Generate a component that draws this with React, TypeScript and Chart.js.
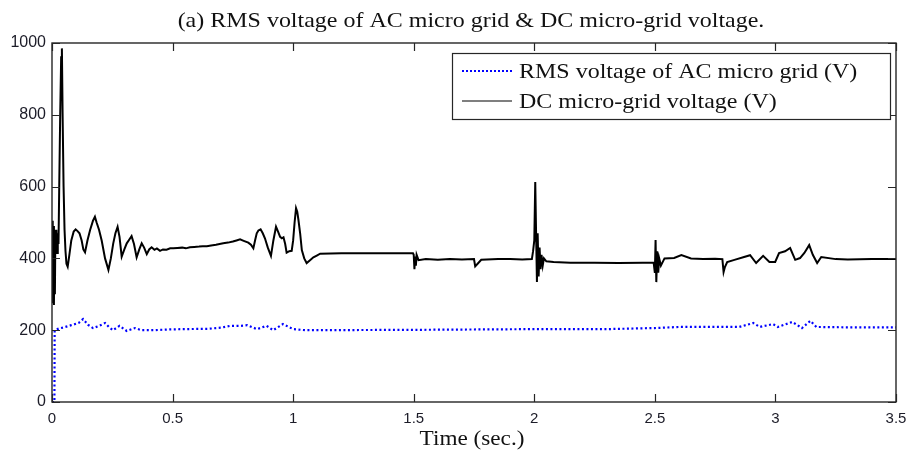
import React, { useEffect, useRef } from "react";
import { Chart, registerables } from "chart.js";

Chart.register(...registerables);

const titleText = "(a) RMS voltage of AC micro grid & DC micro-grid voltage.";
const xAxisTitle = "Time (sec.)";
const acLabel = "RMS voltage of AC micro grid (V)";
const dcLabel = "DC micro-grid voltage (V)";

const xTicks = [0, 0.5, 1, 1.5, 2, 2.5, 3, 3.5];
const yTicks = [0, 200, 400, 600, 800, 1000];

const dcTime = [
  0.0, 0.002, 0.004, 0.006, 0.008, 0.01, 0.012, 0.014, 0.016, 0.018, 0.021, 0.024, 0.027,
  0.030, 0.034, 0.038, 0.041, 0.044, 0.048, 0.052, 0.056, 0.060, 0.065, 0.072, 0.080,
  0.090, 0.098, 0.106, 0.114, 0.123, 0.130, 0.137, 0.147, 0.158, 0.170, 0.178, 0.185,
  0.195, 0.206, 0.220, 0.234, 0.244, 0.254, 0.263, 0.272, 0.280, 0.289, 0.300, 0.310,
  0.320, 0.330, 0.340, 0.351, 0.362, 0.372, 0.382, 0.393, 0.403, 0.413, 0.425, 0.435,
  0.448, 0.460, 0.475, 0.490, 0.503, 0.520, 0.540, 0.555, 0.572, 0.590, 0.610, 0.625,
  0.642, 0.660, 0.680, 0.695, 0.710, 0.730, 0.750, 0.765, 0.780, 0.795, 0.814, 0.825,
  0.835, 0.842, 0.849, 0.856, 0.865, 0.874, 0.883, 0.895, 0.908, 0.918, 0.929, 0.937,
  0.946, 0.953, 0.960, 0.967, 0.973, 0.984, 0.994, 1.000, 1.006, 1.012, 1.017, 1.022,
  1.029, 1.036, 1.046, 1.056, 1.070, 1.084, 1.098, 1.112, 1.200, 1.300, 1.400, 1.497,
  1.500, 1.503, 1.506, 1.509, 1.512, 1.520, 1.550, 1.600, 1.650, 1.700, 1.750, 1.755,
  1.765, 1.780, 1.850, 1.900, 1.950, 1.990, 1.995, 2.000, 2.004, 2.008, 2.011, 2.014,
  2.018, 2.022, 2.026, 2.030, 2.035, 2.040, 2.050, 2.080, 2.150, 2.250, 2.350, 2.450,
  2.495, 2.500, 2.503, 2.506, 2.510, 2.514, 2.518, 2.525, 2.540, 2.580, 2.610, 2.650,
  2.700, 2.750, 2.780, 2.785, 2.790, 2.800, 2.830, 2.870, 2.895, 2.920, 2.949, 2.975,
  2.999, 3.015, 3.040, 3.061, 3.082, 3.102, 3.120, 3.140, 3.155, 3.173, 3.190, 3.250,
  3.300, 3.400, 3.500,
];
const dcVoltage = [
  300, 505, 275, 490, 270, 480, 300, 470, 420, 480, 415, 470, 440,
  600, 800, 960, 985, 800, 600, 480, 420, 385, 377, 410, 450,
  475, 481, 476, 470, 450, 425, 417, 450, 479, 505, 516, 500,
  480, 450, 400, 368, 400, 442, 470, 488, 460, 405, 425, 442,
  452, 462, 440, 403, 425, 442, 430, 412, 425, 431, 424, 428,
  421, 425, 424, 428, 428, 429, 430, 428, 431, 432, 433, 434,
  434, 436, 438, 440, 442, 444, 447, 450, 453, 449, 444, 438,
  428, 450, 470, 478, 481, 470, 456, 430, 407, 450, 488, 475,
  460, 456, 459, 440, 416, 420, 421, 450, 500, 540, 530, 507,
  470, 423, 400, 387, 395, 403, 408, 413, 414, 414, 414, 414,
  410, 370, 405, 380, 410, 395, 398, 396, 398, 397, 398, 378,
  385, 396, 398, 398, 397, 398, 420, 450, 613, 450, 334, 470,
  350, 430, 370, 410, 380, 400, 392, 390, 388, 388, 387, 388,
  388, 360, 451, 334, 420, 360, 400, 380, 400, 401, 409, 400,
  398, 399, 398, 362, 375, 390, 396, 404, 409, 387, 407, 390,
  390, 415, 420, 429, 396, 401, 415, 437, 410, 387, 404, 398,
  397, 398, 398,
];

const acTime = [
  0.0, 0.010, 0.011, 0.030, 0.050, 0.080, 0.110, 0.129, 0.150, 0.170, 0.195, 0.220,
  0.237, 0.253, 0.280, 0.310, 0.344, 0.370, 0.420, 0.480, 0.550, 0.650, 0.700, 0.738,
  0.780, 0.810, 0.850, 0.890, 0.917, 0.958, 1.000, 1.050, 1.500, 2.000, 2.300, 2.500,
  2.600, 2.700, 2.850, 2.908, 2.935, 2.990, 3.010, 3.070, 3.110, 3.145, 3.170, 3.300,
  3.500,
];
const acVoltage = [
  0, 0, 200, 205, 208, 214, 220, 231, 215, 206, 212, 220,
  208, 200, 212, 198, 206, 200, 200, 202, 203, 204, 207, 212,
  212, 214, 203, 212, 200, 217, 203, 200, 201, 203, 203, 206,
  209, 209, 209, 220, 209, 217, 209, 223, 206, 226, 209, 208,
  208,
];

const SERIF = "'Liberation Serif', 'Times New Roman', serif";
const SANS = "'Liberation Sans', Arial, sans-serif";
const TEXT_STRETCH = 1.09;

function drawStretched(
  ctx: CanvasRenderingContext2D,
  text: string,
  x: number,
  y: number,
  font: string,
  sx: number,
  align: "left" | "center"
) {
  ctx.save();
  ctx.font = font;
  ctx.fillStyle = "#111";
  ctx.textBaseline = "alphabetic";
  ctx.textAlign = "left";
  const w = ctx.measureText(text).width * sx;
  const startX = align === "center" ? x - w / 2 : x;
  ctx.translate(startX, y);
  ctx.scale(sx, 1);
  ctx.fillText(text, 0, 0);
  ctx.restore();
}

const framePlugin = {
  id: "matlabFrame",
  afterDraw(chart: any) {
    const ctx: CanvasRenderingContext2D = chart.ctx;
    const { left, right, top, bottom } = chart.chartArea;
    const xs = chart.scales.x;
    const ys = chart.scales.y;
    ctx.save();
    ctx.strokeStyle = "#262626";
    ctx.lineWidth = 1.4;
    ctx.strokeRect(left, top, right - left, bottom - top);
    const tl = 8;
    ctx.beginPath();
    xTicks.forEach((v) => {
      const px = Math.round(xs.getPixelForValue(v)) + 0.5;
      ctx.moveTo(px, bottom);
      ctx.lineTo(px, bottom - tl);
      ctx.moveTo(px, top);
      ctx.lineTo(px, top + tl);
    });
    yTicks.forEach((v) => {
      const py = Math.round(ys.getPixelForValue(v)) + 0.5;
      ctx.moveTo(left, py);
      ctx.lineTo(left + tl, py);
      ctx.moveTo(right, py);
      ctx.lineTo(right - tl, py);
    });
    ctx.lineWidth = 1.2;
    ctx.stroke();

    drawStretched(ctx, titleText, (left + right) / 2 - 3, 27, `22px ${SERIF}`, TEXT_STRETCH, "center");
    drawStretched(ctx, xAxisTitle, (left + right) / 2 - 2, 445, `20px ${SERIF}`, 1.16, "center");

    const lx = 452, ly = 53, lw = 438, lh = 66;
    ctx.fillStyle = "#ffffff";
    ctx.fillRect(lx, ly, lw, lh);
    ctx.strokeStyle = "#262626";
    ctx.lineWidth = 1.2;
    ctx.strokeRect(lx + 0.5, ly + 0.5, lw, lh);

    ctx.beginPath();
    ctx.setLineDash([2, 2]);
    ctx.strokeStyle = "#0000ff";
    ctx.lineWidth = 2;
    ctx.moveTo(462, 71);
    ctx.lineTo(512, 71);
    ctx.stroke();
    ctx.setLineDash([]);
    ctx.beginPath();
    ctx.strokeStyle = "#000000";
    ctx.lineWidth = 1.2;
    ctx.moveTo(462, 101);
    ctx.lineTo(512, 101);
    ctx.stroke();

    drawStretched(ctx, acLabel, 519, 78, `22px ${SERIF}`, TEXT_STRETCH, "left");
    drawStretched(ctx, dcLabel, 519, 108, `22px ${SERIF}`, TEXT_STRETCH, "left");
    ctx.restore();
  },
};

export default function App() {
  const canvasRef = useRef<HTMLCanvasElement | null>(null);

  useEffect(() => {
    if (!canvasRef.current) return;
    const acData = acTime.map((t, i) => ({ x: t, y: acVoltage[i] }));
    const dcData = dcTime.map((t, i) => ({ x: t, y: dcVoltage[i] }));
    const chart = new Chart(canvasRef.current, {
      type: "line",
      data: {
        datasets: [
          {
            label: acLabel,
            data: acData,
            borderColor: "#0000ff",
            borderWidth: 2.2,
            borderDash: [2, 2.5],
            pointRadius: 0,
            tension: 0,
            fill: false,
          },
          {
            label: dcLabel,
            data: dcData,
            borderColor: "#000000",
            borderWidth: 2,
            pointRadius: 0,
            tension: 0,
            fill: false,
          },
        ],
      },
      options: {
        responsive: false,
        animation: false,
        devicePixelRatio: 1,
        layout: { padding: { top: 43, right: 13, left: 0, bottom: 0 } },
        plugins: {
          legend: { display: false },
          title: { display: false },
          tooltip: { enabled: false },
        },
        scales: {
          x: {
            type: "linear",
            min: 0,
            max: 3.5,
            afterBuildTicks: (s: any) => {
              s.ticks = xTicks.map((v) => ({ value: v }));
            },
            afterFit: (s: any) => {
              s.height = 56;
              s.paddingLeft = 0;
              s.paddingRight = 0;
            },
            grid: { display: false, drawTicks: false },
            border: { display: false },
            ticks: {
              padding: 8,
              color: "#1c1c28",
              font: { family: SANS, size: 15 },
              maxRotation: 0,
              autoSkip: false,
              callback: (v: any) => String(v),
            },
          },
          y: {
            type: "linear",
            min: 0,
            max: 1000,
            afterBuildTicks: (s: any) => {
              s.ticks = yTicks.map((v) => ({ value: v }));
            },
            afterFit: (s: any) => {
              s.width = 52;
              s.paddingTop = 0;
              s.paddingBottom = 0;
            },
            grid: { display: false, drawTicks: false },
            border: { display: false },
            ticks: {
              padding: 6,
              color: "#1c1c28",
              font: { family: SANS, size: 16 },
              autoSkip: false,
              callback: (v: any) => String(v),
            },
          },
        },
      },
      plugins: [framePlugin],
    });
    return () => chart.destroy();
  }, []);

  return (
    <div style={{ position: "fixed", left: 0, top: 0, width: 909, height: 458, background: "#fff" }}>
      <canvas ref={canvasRef} width={909} height={458} style={{ display: "block" }} />
    </div>
  );
}
